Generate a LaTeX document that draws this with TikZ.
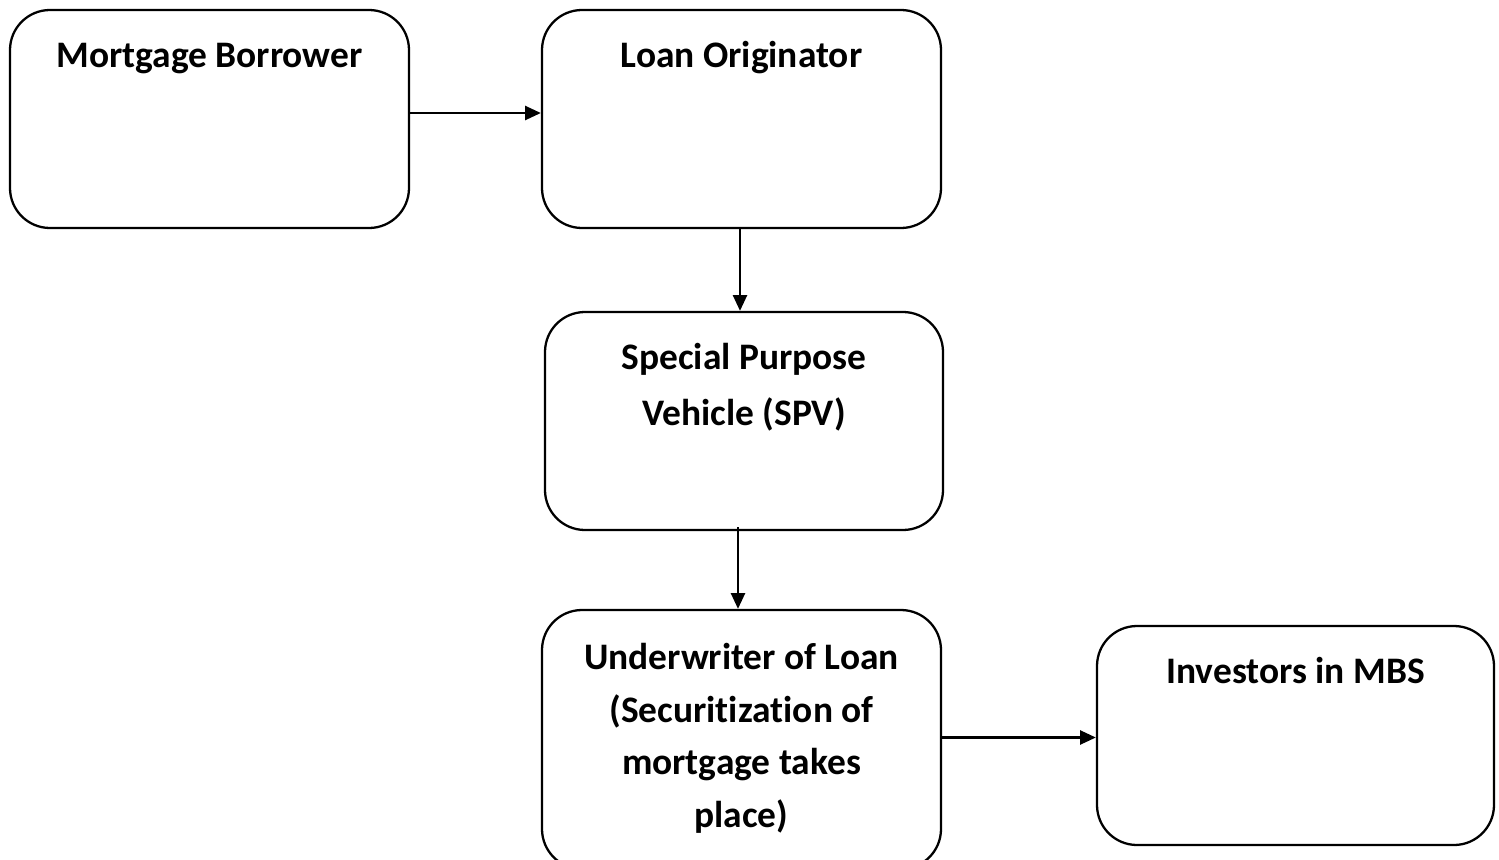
\documentclass[tikz,border=0pt]{standalone}
\usepackage{fontspec}
\setmainfont{Carlito}[RawFeature={-liga;-clig;-dlig}]
\usepackage{tikz}
\usetikzlibrary{shapes, arrows.meta, positioning, calc}

\begin{document}
\begin{tikzpicture}[
    stage/.style={rectangle, draw=black, line width=1.3pt, rounded corners=0.8cm, minimum width=7.98cm, minimum height=4.36cm, inner sep=0pt},
    stagetext/.style={anchor=north, align=center, inner sep=0pt, execute at begin node=\strut, font=\fontsize{21.3}{30}\selectfont\bfseries},
    flow/.style={line width=1.3pt, -{Triangle[length=9pt, width=8pt]}}
]
    \useasboundingbox (0, 0) rectangle (29.98, -17.2);

    % boxes
    \node[stage] (borrower) at (4.19, -2.38) {};
    \node[stage] (originator) at (14.83, -2.38) {};
    \node[stage, minimum width=7.96cm] (spv) at (14.88, -8.42) {};
    \node[stage, minimum height=5.18cm] (underwriter) at (14.83, -14.79) {};
    \node[stage, minimum width=7.94cm, minimum height=4.38cm] (investors) at (25.91, -14.71) {};

    % titles
    \node[stagetext] at ([yshift=-0.43cm]borrower.north) {Mortgage Borrower};
    \node[stagetext] at ([yshift=-0.43cm]originator.north) {Loan Originator};
    \node[stagetext, font=\fontsize{21.3}{31.8}\selectfont\bfseries] at ([yshift=-0.64cm]spv.north) {Special Purpose\\Vehicle (SPV)};
    \node[stagetext] at ([yshift=-0.68cm]underwriter.north) {Underwriter of Loan\\(Securitization of\\mortgage takes\\place)};
    \node[stagetext] at ([yshift=-0.42cm]investors.north) {Investors in MBS};

    % arrows
    \draw[flow] ([yshift=0.12cm]borrower.east) -- ([yshift=0.12cm]originator.west);
    \draw[flow] ([xshift=-0.03cm]originator.south) -- ([xshift=-0.03cm]originator.south |- spv.north);
    \draw[flow] ([xshift=-0.12cm, yshift=0.08cm]spv.south) -- ([xshift=-0.12cm]spv.south |- underwriter.north);
    \draw[flow] ([yshift=0.04cm]underwriter.east) -- ([yshift=0.04cm]underwriter.east -| investors.west);
\end{tikzpicture}
\end{document}
